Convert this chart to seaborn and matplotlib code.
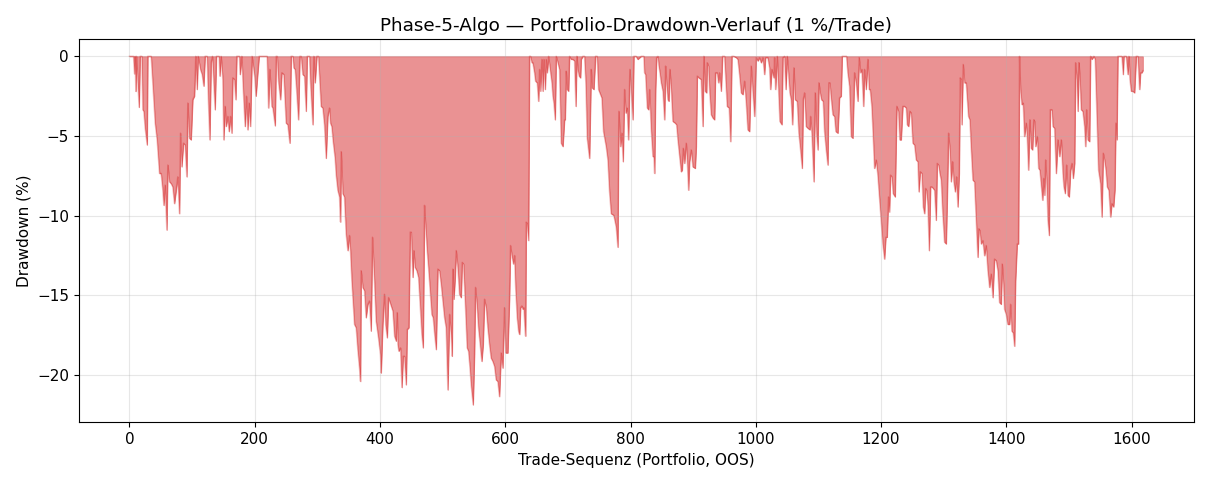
import numpy as np
import pandas as pd
import matplotlib.pyplot as plt
import seaborn as sns

# drawdown (%), trade index -> drawdown
trades_a = [0, 2.6, 6.4, 8, 9, 10.1, 11.2, 15.4, 17, 19.7, 21.3, 22.9, 25, 28.2, 29.2, 34.6, 37.2, 41, 44.1, 47.9,
            50.5, 53.2, 54.8, 56.9, 59.6, 61.2, 63.8, 66.5, 69.1, 71.8, 74.5, 77.1, 79.8, 81.4, 83.5, 86.2, 88.8, 91.5,
            93.1, 95.7, 98.4, 101, 103.7, 105.8, 108, 109.6, 113.3, 116, 118.6, 120.7, 124, 126.1, 128.2, 130.3, 132.4,
            134.6, 136.7, 138.8, 143.1, 144.2, 146.3, 149, 150.5, 152.7, 154.3, 156.9, 159, 161.2, 163.3, 164.9, 167.6,
            169.7, 171.3, 175.5, 176.6, 179.3, 181.9, 184.6, 186.7, 188.8, 191, 193.1, 195.7]
dd_a = [0, 0, 0, -1.1, 0, -2.2, 0, -3.2, 0, 0, -3.35, -3.45, -4.5, -5.56, 0, 0, -1.66, -4.19, -5.24, -7.35,
        -7.35, -8.4, -9.35, -8.08, -10.9, -6.82, -7.87, -7.98, -8.19, -9.24, -8.4, -7.56, -9.87, -4.82, -6.93, -5.45,
        -5.56, -7.56, -2.93, -5.14, -5.24, -2.72, -2.5, 0, -2.08, 0, -0.82, -1.14, -1.87, 0, 0, -2.93, -5.24, -0.4, 0,
        -1.66, -3.35, 0, 0, -1.24, 0, -1.45, -5.24, -3.14, -4.4, -3.77, -4.72, -3.77, -4.82, -1.35, -1.45,
        -2.72, 0, 0, -1.14, 0, -2.29, -4.4, -2.5, -4.61, -2.93, -4.4, 0]

trades_b = [200, 202, 204.5, 207, 219.8, 222, 224, 227.3, 228.9, 232.6, 234.2, 235.8, 237.9, 241.1, 243.2, 246.4,
            250.1, 252.8, 256, 258.1, 260.8, 262.4, 264.5, 266.6, 269.8, 272, 274.1, 276.7, 279.4, 282.1, 283.7,
            287.4, 289, 292.7, 294.3, 296.4, 299.1, 301.7, 306, 308.7, 311.3, 314, 316.6, 319.3, 320.9, 323, 325.2,
            328.3, 330, 332.6, 335.3, 336.9, 338, 340.6, 343.2, 345.9, 348.6, 351.2, 352.8, 355, 359.2, 361.9, 364.5,
            367.2, 368.8, 369.8, 372.5, 375.2, 377.8, 380.5, 383.1, 385.8, 387.9, 391.1, 393.8, 397.5, 400.7, 401.8,
            404.4]
dd_b = [-1.3, -2.5, -1.2, 0, 0, -3.24, -0.82, -3.14, -3.24, -4.36, 0, 0, -1.56, -2.72, -1.03, -1.14,
        -4.19, -4.29, -5.45, 0, 0, -0.72, -0.82, -1.98, -3.98, 0, 0, -1.14, -1.24, -3.45, 0,
        0, -1.66, -4.29, 0, -1.66, 0, 0, -3.14, -3.24, -4.29, -6.4, -3.77, -3.24, -4.19, -4.4, -5.35,
        -6.4, -7.45, -8.4, -8.82, -10.4, -5.98, -8.61, -8.82, -11.14, -12.19, -11.24, -12.19, -14.08, -16.82, -17.03,
        -18.4, -19.56, -20.4, -13.45, -14.5, -14.7, -16.4, -15.56, -15.35, -17.24, -11.35, -14.08, -16.61, -17.66,
        -18.72, -19.87, -16.82]

trades_c = [407, 409, 411.5, 413.6, 417.8, 420.5, 423.2, 425.8, 427.4, 428.5, 430, 432.7, 434.9, 437, 439.1, 441.8,
            443.4, 446, 448.2, 449.8, 452.4, 454, 456.1, 458.8, 461.5, 464.7, 466.8, 468.9, 471, 472.6, 475.3, 477.4,
            480.1, 482.7, 484.9, 487, 489.7, 492.3, 495, 497.6, 500.3, 503, 505.6, 508.3, 511, 513.6, 515.2, 516.3,
            517.9, 520, 521.6, 524.2, 526.9, 529.6, 531.2, 533.3, 536, 539.1, 541.3, 543.4, 545.5, 548.7, 550.8, 552.4,
            554.6, 557.2, 559.9, 562.5, 564.7, 566.8, 569.5, 572.1, 574.8, 577.4, 580.1, 582.8, 585.4, 588.1, 590.7,
            593.4, 596, 598.7, 600.8, 604, 606.7, 608.3, 611, 613.1]
dd_c = [-14.93, -16.82, -17.66, -15.14, -15.66, -15.98, -17.56, -17.87, -16.08, -18.08, -18.5, -18.29, -20.78,
        -18.82, -18.82, -20.61, -17.14, -17.03, -11.03, -11.03, -13.87, -12.19, -13.24, -13.45, -13.87, -15.98,
        -17.45, -18.29, -9.35, -10.5, -12.19, -13.24, -14.72, -16.19, -16.4, -17.35, -18.4, -13.35, -13.45, -14.29,
        -15.35, -16.4, -17.03, -20.93, -16.19, -17.45, -18.82, -13.35, -15.24, -13.87, -12.19, -13.24, -14.93,
        -15.14, -12.93, -13.03, -15.35, -18.29, -18.5, -19.45, -20.61, -21.87, -18.72, -14.5, -15.45, -17.03,
        -18.08, -19.14, -18.08, -15.24, -15.77, -17.03, -18.08, -18.93, -19.14, -19.45, -20.3, -20.4, -21.35,
        -18.61, -19.56, -15.77, -18.61, -18.61, -15.24, -11.87, -12.61, -13.03]

trades_d = [614.8, 616.4, 619, 621.2, 622.8, 624.4, 626.5, 628.1, 629.7, 630.8, 632.4, 633.4, 635, 637.1, 638.7,
            640.3, 642.5, 644, 646.7, 648.3, 651, 653.1, 654.7, 656.3, 658.4, 660, 661.6, 663.8, 665.3, 667, 669.1,
            672.3, 674.4, 676, 677.6, 679.7, 681.3, 684, 686.6, 689.3, 692, 694.6, 695.7, 697.3, 698.9, 701, 702.6,
            705.3, 708, 710.6, 712.7, 714.3, 715.9, 718, 720.1, 721.2, 723.9, 726.5, 728.6, 730.8, 734.5, 737.2, 738.8,
            741.4, 744.1, 746.7, 748.9, 752.1, 754.2, 756.8, 761.1, 763.8, 766.4, 769.1, 773.3, 777.1, 779.7, 781.3,
            784, 786.1, 788.2, 790.4, 792.5, 794.6, 796.7, 798.9, 801, 803.7, 805.3, 809, 811.6, 817, 821.2]
dd_d = [-12.5, -14.4, -16.4, -17.24, -17.45, -15.77, -15.66, -15.87, -15.77, -16.61, -17.56, -10.4, -10.5, -11.56,
        0, 0, -0.4, -0.4, -1.03, -1.56, -1.66, -2.82, -0.82, -2.19, -0.19, -2.19, -0.19, -2.08, -0.19, -1.03, 0,
        -1.03, -1.66, -2.5, -2.93, -3.98, 0, -0.4, -0.82, -5.45, -5.66, -3.98, -3.98, -0.93, -2.08, -2.19, 0,
        -0.19, -0.19, -0.29, -3.14, 0, -0.82, -1.24, -1.35, -0.19, 0, 0, -1.66, -5.14, -6.4, -0.82, -1.98,
        -2.08, 0, 0, -2.08, -2.4, -2.61, -4.72, -5.66, -6.5, -8.5, -9.87, -9.98, -10.72, -11.98, -3.45,
        -5.66, -4.82, -6.61, -2.08, -3.56, -3.24, -5.24, -0.82, -2.08, -3.98, 0, 0, -0.19, 0, 0]

trades_e = [822.3, 824, 826.7, 828.8, 830.4, 833, 835.7, 837.3, 838.4, 840, 841.6, 843.7, 845.3, 846.9, 849, 851.7,
            854.3, 855.9, 857.5, 859.7, 861.2, 862.8, 865, 867.6, 871.3, 873.5, 875.6, 878.3, 880.9, 882.5, 884.1,
            886.2, 888.9, 890.5, 892.6, 894.2, 896.9, 899.5, 903.3, 904.9, 906.5, 909.1, 912.8, 915.5, 917.1, 919.2,
            921.4, 922.4, 924.5, 926.1, 928.8, 931.5, 934.1, 935.7, 938.4, 940.5, 942.1, 944.8, 946.9, 950.1, 954.3,
            957.5, 959.7, 961.8, 965, 968.7, 971.4, 974, 976.7, 979.3, 982, 984.7, 987.3, 990, 992.6, 995.3, 998,
            1000.6, 1003.3, 1005.9, 1008.6, 1011.3, 1013.9, 1015.5, 1019.2, 1021.9, 1023.5, 1025.6, 1028.8]
dd_e = [-1.03, -1.14, -3.24, -3.35, -2.08, -4.61, -6.29, -6.29, -7.35, -2.08, -0.08, 0, -0.61, -1.03, -1.66, -2.19,
        -3.98, -0.61, -1.66, -2.72, -2.82, -0.82, -2.08, -4.08, -4.19, -4.29, -5.24, -6.29, -7.24, -7.14, -5.77,
        -6.72, -5.45, -6.5, -8.4, -6.61, -5.87, -6.93, -7.03, -5.66, -1.24, -1.35, -1.45, -4.4, 0, -2.19,
        -2.29, -0.4, -0.61, -2.08, -3.66, -3.87, -3.98, -1.03, -1.03, -1.66, -1.03, -2.19, 0, 0, -3.14,
        -3.24, -5.35, 0, 0, -0.08, -0.19, -1.14, -2.29, -2.4, -1.56, -2.93, -4.61, -4.72, -0.61, -2.19, -3.77,
        -0.08, -0.29, -0.08, -0.4, -0.08, -1.14, -0.08, -0.08, -0.72, -2.08, -0.82, -1.35]

trades_f = [1029.9, 1031.5, 1034.2, 1036.3, 1038.4, 1041.6, 1043.2, 1045.9, 1048, 1050.1, 1052.3, 1054.4, 1056.5,
            1058.6, 1060.8, 1062.9, 1066.1, 1068.7, 1071.4, 1074.1, 1075.7, 1077.8, 1080.4, 1083.1, 1086.3, 1087.4,
            1089.5, 1092.7, 1094.8, 1097, 1099.1, 1100.7, 1102.8, 1104.9, 1107.6, 1109.7, 1112.4, 1115, 1116.6,
            1118.2, 1120.3, 1123, 1125.7, 1127.8, 1131, 1133.6, 1136.3, 1137.9, 1141.6, 1144.8, 1146.9, 1149.6,
            1152.3, 1154.9, 1157.6, 1160.2, 1162.9, 1165, 1167.2, 1169.3, 1172, 1173.5, 1176.2, 1178.9, 1181, 1182.6,
            1185.2, 1187.4, 1189.5, 1192.2, 1194.8, 1197.5, 1200.1, 1202.8, 1205.5, 1207.6, 1209.7, 1211.8, 1213.4,
            1215, 1217.2, 1219.3, 1222.5, 1225.1, 1227.8, 1229.9, 1232.1, 1234.7]
dd_f = [-0.08, -2.08, 0, -2.08, -4.08, -4.29, -0.08, 0, -2.08, 0, -1.14, -2.29, -2.72, -4.29, -0.72, -2.72, -2.82,
        -4.82, -5.87, -7.03, -2.72, -2.29, -4.4, -4.51, -4.61, -3.77, -4.82, -7.87, -2.29, -4.82, -5.87, -1.66,
        -2.29, -2.72, -2.82, -4.72, -5.87, -6.82, -1.66, -1.66, -2.61, -3.66, -3.77, -4.72, -4.82, -2.61, -2.5,
        0, 0, 0, -1.03, -1.87, -5.03, -5.14, -1.03, -1.66, -2.82, -0.08, -1.03, -0.82, -3.14, -0.82, -2.08,
        -0.19, -2.08, -2.08, -3.14, -5.03, -7.03, -6.5, -7.45, -8.93, -10.29, -11.77, -12.72, -11.35, -11.35,
        -8.82, -9.77, -7.45, -7.56, -8.61, -8.82, -3.14, -3.45, -5.24, -5.24, -3.14]

trades_g = [1237.5, 1240.2, 1241.8, 1243.9, 1246, 1248.1, 1250.8, 1253.5, 1256.1, 1258.8, 1260.4, 1262.5, 1265.2,
            1267.3, 1269.4, 1271, 1272.6, 1274.7, 1276.9, 1279, 1281.1, 1283.3, 1285.4, 1288, 1289.6, 1291.8, 1293.9,
            1296, 1298.2, 1301.3, 1304, 1305.6, 1307.7, 1309.9, 1312, 1314.1, 1316.2, 1318.4, 1320.5, 1322.6, 1324.8,
            1326.3, 1327.9, 1329, 1331.1, 1333.3, 1335.9, 1337.5, 1339.6, 1341.8, 1343.9, 1346.6, 1349.2, 1351.9,
            1354.5, 1356.1, 1357.7, 1359.9, 1362.5, 1365.2, 1367.8, 1370.5, 1373.2, 1375.8, 1378.5, 1381.1, 1383.8,
            1386.5, 1389.1, 1391.8, 1393.4, 1395.5, 1397.1, 1399.8, 1402.4, 1405.1, 1406.7, 1408.8, 1411, 1413.1,
            1414.7, 1417.3, 1419.4, 1421, 1422.6, 1424.8, 1426.9, 1429, 1431.7, 1433.3, 1435.4, 1437.5, 1439.7,
            1441.8, 1443.9]
dd_g = [-3.14, -3.24, -4.29, -4.4, -3.45, -3.56, -5.45, -5.56, -6.5, -6.61, -8.5, -7.24, -7.35, -9.45, -9.87,
        -8.29, -8.4, -9.35, -12.19, -8.19, -8.19, -8.29, -8.4, -10.29, -6.72, -6.82, -7.35, -7.77, -9.66, -11.66,
        -11.77, -9.03, -4.82, -5.87, -7.87, -6.61, -7.87, -8.5, -7.56, -9.45, -7.35, -1.35, -1.45, -4.29, -0.51,
        -1.66, -1.66, -2.61, -3.77, -3.98, -5.77, -7.77, -7.87, -10.29, -12.61, -10.82, -10.93, -11.77, -11.56,
        -12.51, -11.87, -13.45, -14.5, -13.66, -15.14, -12.72, -12.82, -13.45, -15.45, -15.56, -13.03, -14.29,
        -15.87, -16.19, -16.82, -16.82, -15.56, -17.24, -17.35, -18.19, -14.08, -11.77, -11.77, 0, -2.08, -3.03,
        -2.93, -5.03, -4.19, -5.03, -7.14, -3.98, -5.77, -5.87, -3.98]

trades_h = [1445.1, 1446.7, 1449.4, 1451.5, 1453.6, 1455.7, 1457.9, 1459.5, 1461.1, 1462.7, 1464.8, 1466.4, 1468.5,
            1470.1, 1472.8, 1474.4, 1477, 1479.7, 1482.3, 1485, 1487.7, 1490.3, 1491.9, 1494, 1496.2, 1498.3, 1500.4,
            1502.6, 1504.7, 1506.8, 1509, 1510.5, 1512.7, 1514.3, 1515.9, 1517.5, 1519.6, 1522.2, 1524.9, 1526.5,
            1528.1, 1530.2, 1532.9, 1534.5, 1536.6, 1539.8, 1541.9, 1544.1, 1547.2, 1550.4, 1552.6, 1554.7, 1556.8,
            1559, 1561.1, 1563.7, 1566.4, 1568.5, 1571.2, 1573.3, 1574.9, 1576.5, 1578.1, 1584.5, 1586.6, 1587.7,
            1591.4, 1594.1, 1595.7, 1597.3, 1599.4, 1602.1, 1604.7, 1607.4, 1610, 1612.7, 1614.3, 1616.4, 1618]
dd_h = [-4.08, -5.66, -5.03, -7.03, -7.14, -8.08, -9.03, -7.66, -8.72, -6.5, -8.19, -10.29, -11.24,
        -3.35, -3.35, -4.4, -4.51, -7.35, -5.24, -6.29, -5.24, -7.35, -8.19, -8.61, -6.82, -8.72, -8.82,
        -7.14, -6.72, -7.66, -6.72, -0.4, -1.45, -3.45, -0.4, -1.45, -3.35, -3.45, -4.4, -5.66, -3.35,
        -5.24, -5.35, 0, -0.19, 0, -0.19, -3.03, -7.14, -7.98, -10.08, -6.08, -6.5, -7.14, -8.19, -8.4,
        -10.08, -9.24, -9.45, -8.4, -4.19, -5.24, 0, 0, -1.14, 0, 0, -1.14, 0, -1.45, -2.19, -2.19,
        -2.29, 0, 0, -2.08, -1.03, -1.03, -0.9]

trade = np.concatenate([trades_a, trades_b, trades_c, trades_d, trades_e, trades_f, trades_g, trades_h])
drawdown = np.concatenate([dd_a, dd_b, dd_c, dd_d, dd_e, dd_f, dd_g, dd_h])
df = pd.DataFrame({"trade": trade, "dd": drawdown})

plt.rcParams["font.size"] = 11

fig, ax = plt.subplots(figsize=(12.1, 4.84), dpi=100)
ax.fill_between(df["trade"], df["dd"], 0, color="tab:red", alpha=0.5, linewidth=0.6)
sns.lineplot(data=df, x="trade", y="dd", ax=ax, color="tab:red", alpha=0.3, linewidth=1, sort=False)
ax.set_title("Phase-5-Algo — Portfolio-Drawdown-Verlauf (1 %/Trade)")
ax.set_xlabel("Trade-Sequenz (Portfolio, OOS)")
ax.set_ylabel("Drawdown (%)")
ax.grid(alpha=0.3)
fig.tight_layout()
fig.savefig("out.png")
